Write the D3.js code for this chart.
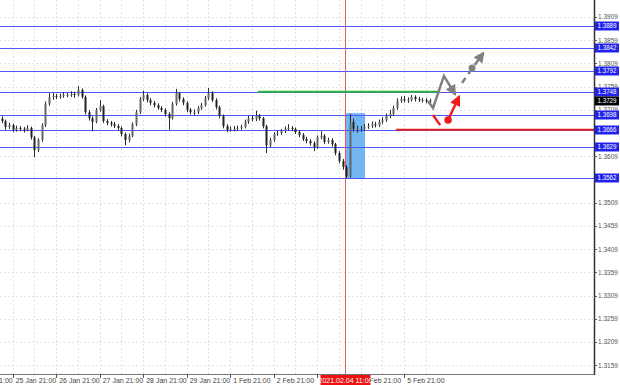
<!DOCTYPE html>
<html><head><meta charset="utf-8">
<script src="https://cdn.jsdelivr.net/npm/d3@7"></script>
<style>body{margin:0;background:#fff}svg{display:block;font-family:"Liberation Sans",Arial,sans-serif}</style>
</head><body><svg id="c" width="620" height="385"></svg>
<script>
// ---- data (session hours: 0 = 25 Jan 21:00, weekend removed) ----
const dateTickHours = [-24, 0, 24, 48, 72, 96, 120, 144, 168, 192, 216];
const dateTickLabels = ["22 Jan 21:00","25 Jan 21:00","26 Jan 21:00","27 Jan 21:00","28 Jan 21:00","29 Jan 21:00","1 Feb 21:00","2 Feb 21:00","3 Feb 21:00","4 Feb 21:00","5 Feb 21:00"];
const priceTicks = [1.3909,1.3859,1.3809,1.3759,1.3709,1.3609,1.3509,1.3459,1.3409,1.3359,1.3309,1.3259,1.3209,1.3159];
const levelLines = [1.3889,1.3842,1.3792,1.3748,1.3698,1.3666,1.3629,1.3562];
const currentPrice = 1.3729;
const firstBarHour = -6, barHours = 2;
const opens0 = 1.3690;
const closes = [1.3685,1.3672,1.3676,1.3666,1.3670,1.3668,1.3666,1.3670,1.3650,1.3622,
1.3644,1.3676,1.3722,1.3737,1.3739,1.3737,1.3739,1.3741,1.3741,1.3743,
1.3741,1.3752,1.3737,1.3704,1.3691,1.3683,1.3709,1.3717,1.3685,1.3681,
1.3678,1.3674,1.3670,1.3657,1.3644,1.3653,1.3678,1.3704,1.3732,1.3741,
1.3730,1.3724,1.3719,1.3713,1.3709,1.3700,1.3691,1.3722,1.3745,1.3732,
1.3724,1.3709,1.3704,1.3704,1.3713,1.3719,1.3734,1.3745,1.3730,1.3715,
1.3696,1.3674,1.3666,1.3668,1.3668,1.3670,1.3672,1.3683,1.3691,1.3689,
1.3696,1.3691,1.3674,1.3633,1.3644,1.3657,1.3659,1.3663,1.3668,1.3670,
1.3668,1.3661,1.3655,1.3646,1.3642,1.3637,1.3629,1.3650,1.3653,1.3640,
1.3644,1.3635,1.3616,1.3599,1.3586,1.3566,1.3683,1.3668,1.3668,1.3668,
1.3672,1.3674,1.3678,1.3676,1.3683,1.3687,1.3696,1.3700,1.3713,1.3728,
1.3732,1.3730,1.3730,1.3737,1.3732,1.3730,1.3730,1.3728,1.3729];
const highs = [1.3695,1.3688,1.3681,1.3679,1.3675,1.3674,1.3672,1.3676,1.3673,1.3653,
1.3648,1.3680,1.3727,1.3745,1.3745,1.3743,1.3744,1.3747,1.3746,1.3749,
1.3748,1.3760,1.3755,1.3740,1.3708,1.3695,1.3713,1.3730,1.3720,1.3689,
1.3685,1.3683,1.3678,1.3673,1.3660,1.3658,1.3682,1.3709,1.3737,1.3750,
1.3745,1.3734,1.3728,1.3723,1.3717,1.3712,1.3704,1.3726,1.3754,1.3748,
1.3736,1.3727,1.3713,1.3710,1.3717,1.3724,1.3739,1.3756,1.3749,1.3734,
1.3718,1.3699,1.3678,1.3673,1.3674,1.3675,1.3677,1.3688,1.3696,1.3697,
1.3707,1.3700,1.3694,1.3677,1.3649,1.3661,1.3664,1.3668,1.3673,1.3678,
1.3674,1.3671,1.3665,1.3659,1.3651,1.3646,1.3641,1.3654,1.3663,1.3657,
1.3649,1.3648,1.3638,1.3620,1.3603,1.3590,1.3700,1.3690,1.3675,1.3674,
1.3678,1.3680,1.3684,1.3683,1.3688,1.3693,1.3701,1.3709,1.3718,1.3734,
1.3738,1.3739,1.3736,1.3741,1.3740,1.3737,1.3735,1.3734,1.3733];
const lows = [1.3680,1.3666,1.3668,1.3661,1.3662,1.3663,1.3660,1.3663,1.3645,1.3607,
1.3618,1.3640,1.3672,1.3718,1.3731,1.3732,1.3733,1.3735,1.3736,1.3737,
1.3735,1.3738,1.3733,1.3699,1.3686,1.3663,1.3680,1.3705,1.3681,1.3676,
1.3673,1.3670,1.3665,1.3652,1.3633,1.3639,1.3650,1.3674,1.3700,1.3728,
1.3725,1.3719,1.3714,1.3709,1.3704,1.3695,1.3666,1.3688,1.3718,1.3727,
1.3719,1.3704,1.3699,1.3698,1.3700,1.3709,1.3716,1.3730,1.3726,1.3710,
1.3691,1.3669,1.3661,1.3662,1.3663,1.3664,1.3666,1.3669,1.3679,1.3684,
1.3685,1.3686,1.3669,1.3616,1.3628,1.3640,1.3653,1.3655,1.3659,1.3664,
1.3663,1.3657,1.3650,1.3642,1.3637,1.3632,1.3620,1.3625,1.3646,1.3635,
1.3636,1.3630,1.3611,1.3594,1.3580,1.3560,1.3563,1.3662,1.3660,1.3662,
1.3664,1.3668,1.3670,1.3671,1.3672,1.3679,1.3683,1.3691,1.3696,1.3709,
1.3724,1.3725,1.3724,1.3727,1.3727,1.3726,1.3725,1.3723,1.3724];
// annotations
const markerHour = 183.6, markerLabel = "2021.02.04 11:00";
const zoneHours = [183.4, 194.4], zonePrices = [1.3702, 1.3562];
const greenLevel = 1.3748, greenHours = [135.3, 234.6];
const redLevel = 1.3666, redStartHour = 211.5;
const grayPathHours = [229.1, 231.9, 237.9, 244.0];
const grayPathPrices = [1.3728, 1.3713, 1.3782, 1.3743];
const grayDashHours = [247.9, 259.5], grayDashPrices = [1.3767, 1.3831];
const grayDot = [253.4, 1.3799];
const redDashHours = [231.9, 235.8], redDashPrices = [1.3698, 1.3676];
const redArrowHours = [240.2, 246.2], redArrowPrices = [1.3687, 1.3737];

// ---- chart ----
const svg = d3.select("#c");
const W = 594, H = 374;
const x = d3.scaleLinear().domain([-7.0, 320.7]).range([0, W]);
const y = d3.scaleLinear().domain([1.3140, 1.39456]).range([H, 0]);

const defs = svg.append("defs");
function marker(id, color, size) {
  defs.append("marker").attr("id", id).attr("viewBox", "0 0 10 10").attr("refX", 8).attr("refY", 5)
    .attr("markerWidth", size).attr("markerHeight", size).attr("orient", "auto").attr("markerUnits","userSpaceOnUse")
    .append("path").attr("d", "M0,0 L10,5 L0,10 z").attr("fill", color);
}
marker("ag", "#808080", 11);
marker("ar", "#ee1c1c", 11);

const plot = svg.append("g");
plot.append("defs").append("clipPath").attr("id","clip").append("rect").attr("width",W).attr("height",H);
const g = plot.append("g").attr("clip-path","url(#clip)");

// grid
g.selectAll("line.hg").data(priceTicks).join("line")
  .attr("x1",0).attr("x2",W).attr("y1",d=>Math.round(y(d))+0.5).attr("y2",d=>Math.round(y(d))+0.5)
  .attr("stroke","#e4e4e4").attr("stroke-dasharray","2,2");
const vgrid = [];
dateTickHours.forEach(h=>{vgrid.push(h); vgrid.push(h+12);});
g.selectAll("line.vg").data(vgrid).join("line")
  .attr("y1",0).attr("y2",H).attr("x1",d=>Math.round(x(d))+0.5).attr("x2",d=>Math.round(x(d))+0.5)
  .attr("stroke","#e4e4e4").attr("stroke-dasharray","2,2");

// zone rectangle
g.append("rect").attr("x",x(zoneHours[0])).attr("width",x(zoneHours[1])-x(zoneHours[0]))
  .attr("y",y(zonePrices[0])).attr("height",y(zonePrices[1])-y(zonePrices[0]))
  .attr("fill","#5aaaf0").attr("opacity",0.85);

// level lines
g.selectAll("line.lv").data(levelLines).join("line")
  .attr("x1",0).attr("x2",W).attr("y1",d=>Math.round(y(d))+0.5).attr("y2",d=>Math.round(y(d))+0.5)
  .attr("stroke","#5555ff").attr("stroke-width",1);

// marker vertical line
g.append("line").attr("x1",Math.round(x(markerHour))+0.5).attr("x2",Math.round(x(markerHour))+0.5)
  .attr("y1",0).attr("y2",H).attr("stroke","#e06060").attr("stroke-width",1);

// green & red horizontal levels
g.append("line").attr("x1",x(greenHours[0])).attr("x2",x(greenHours[1]))
  .attr("y1",y(greenLevel)).attr("y2",y(greenLevel)).attr("stroke","#2fb33f").attr("stroke-width",2);
g.append("line").attr("x1",x(redStartHour)).attr("x2",W)
  .attr("y1",y(redLevel)).attr("y2",y(redLevel)).attr("stroke","#e51c1c").attr("stroke-width",2);

// candles
const bars = closes.map((c,i)=>({h:firstBarHour+i*barHours, o:i?closes[i-1]:opens0, c, hi:highs[i], lo:lows[i]}));
const cg = g.append("g");
cg.selectAll("line.w").data(bars).join("line")
  .attr("x1",d=>Math.round(x(d.h))+0.5).attr("x2",d=>Math.round(x(d.h))+0.5)
  .attr("y1",d=>y(d.hi)).attr("y2",d=>y(d.lo)).attr("stroke","#2a2a2a").attr("stroke-width",1);
cg.selectAll("rect.b").data(bars).join("rect")
  .attr("x",d=>Math.round(x(d.h))-0.5).attr("width",2)
  .attr("y",d=>y(Math.max(d.o,d.c))).attr("height",d=>Math.max(1,Math.abs(y(d.o)-y(d.c))))
  .attr("fill",d=>d.c>=d.o?"#666":"#222");

// projection paths
const line = d3.line().x(d=>x(d[0])).y(d=>y(d[1]));
g.append("path").attr("d",line(grayPathHours.map((h,i)=>[h,grayPathPrices[i]])))
  .attr("fill","none").attr("stroke","#808080").attr("stroke-width",2.5).attr("stroke-linejoin","miter")
  .attr("marker-end","url(#ag)");
g.append("path").attr("d",line(grayDashHours.map((h,i)=>[h,grayDashPrices[i]])))
  .attr("fill","none").attr("stroke","#808080").attr("stroke-width",2.5).attr("stroke-dasharray","6,5")
  .attr("marker-end","url(#ag)");
g.append("circle").attr("cx",x(grayDot[0])).attr("cy",y(grayDot[1])).attr("r",3.5).attr("fill","#808080");
g.append("path").attr("d",line(redDashHours.map((h,i)=>[h,redDashPrices[i]])))
  .attr("fill","none").attr("stroke","#ee1c1c").attr("stroke-width",2.5);
g.append("path").attr("d",line(redArrowHours.map((h,i)=>[h,redArrowPrices[i]])))
  .attr("fill","none").attr("stroke","#ee1c1c").attr("stroke-width",2.5).attr("marker-end","url(#ar)");
g.append("circle").attr("cx",x(redArrowHours[0])).attr("cy",y(redArrowPrices[0])).attr("r",3.8).attr("fill","#ee1c1c");

// axes lines
svg.append("line").attr("x1",0).attr("x2",W).attr("y1",H+0.5).attr("y2",H+0.5).attr("stroke","#777");
svg.append("line").attr("x1",W+0.5).attr("x2",W+0.5).attr("y1",0).attr("y2",H+1).attr("stroke","#333").attr("stroke-width",1.5);

// right price axis
const ra = svg.append("g").style("font-size","6.5px");
ra.selectAll("text.pt").data(priceTicks).join("text")
  .attr("x",598).attr("y",d=>y(d)+2.5).attr("fill","#555").text(d=>d.toFixed(4));
ra.selectAll("line.pt").data(priceTicks).join("line")
  .attr("x1",W).attr("x2",W+3).attr("y1",d=>Math.round(y(d))+0.5).attr("y2",d=>Math.round(y(d))+0.5).attr("stroke","#555");
const tags = levelLines.map(v=>({v, fill:"#2222ee"})).concat([{v:currentPrice, fill:"#000"}]);
const tg = ra.selectAll("g.tag").data(tags).join("g").attr("transform",d=>`translate(${W+1},${Math.round(y(d.v))-4.5})`);
tg.append("rect").attr("width",24).attr("height",9).attr("fill",d=>d.fill);
tg.append("text").attr("x",2.5).attr("y",6.8).attr("fill","#fff").attr("textLength",19).attr("lengthAdjust","spacingAndGlyphs").text(d=>d.v.toFixed(4));

// bottom time axis
const ba = svg.append("g").style("font-size","7px");
ba.selectAll("line.t").data(dateTickHours).join("line")
  .attr("x1",d=>Math.round(x(d))+0.5).attr("x2",d=>Math.round(x(d))+0.5).attr("y1",H).attr("y2",H+4).attr("stroke","#555");
ba.selectAll("text.t").data(dateTickHours).join("text")
  .attr("x",d=>x(d)+3).attr("y",H+9).attr("fill","#444").text((d,i)=>dateTickLabels[i]);
const mx = x(markerHour);
ba.append("rect").attr("x",mx-25).attr("y",H+1).attr("width",50).attr("height",10).attr("fill","#ee1111");
ba.append("text").attr("x",mx).attr("y",H+9).attr("text-anchor","middle").attr("fill","#fff").text(markerLabel);
</script></body></html>
